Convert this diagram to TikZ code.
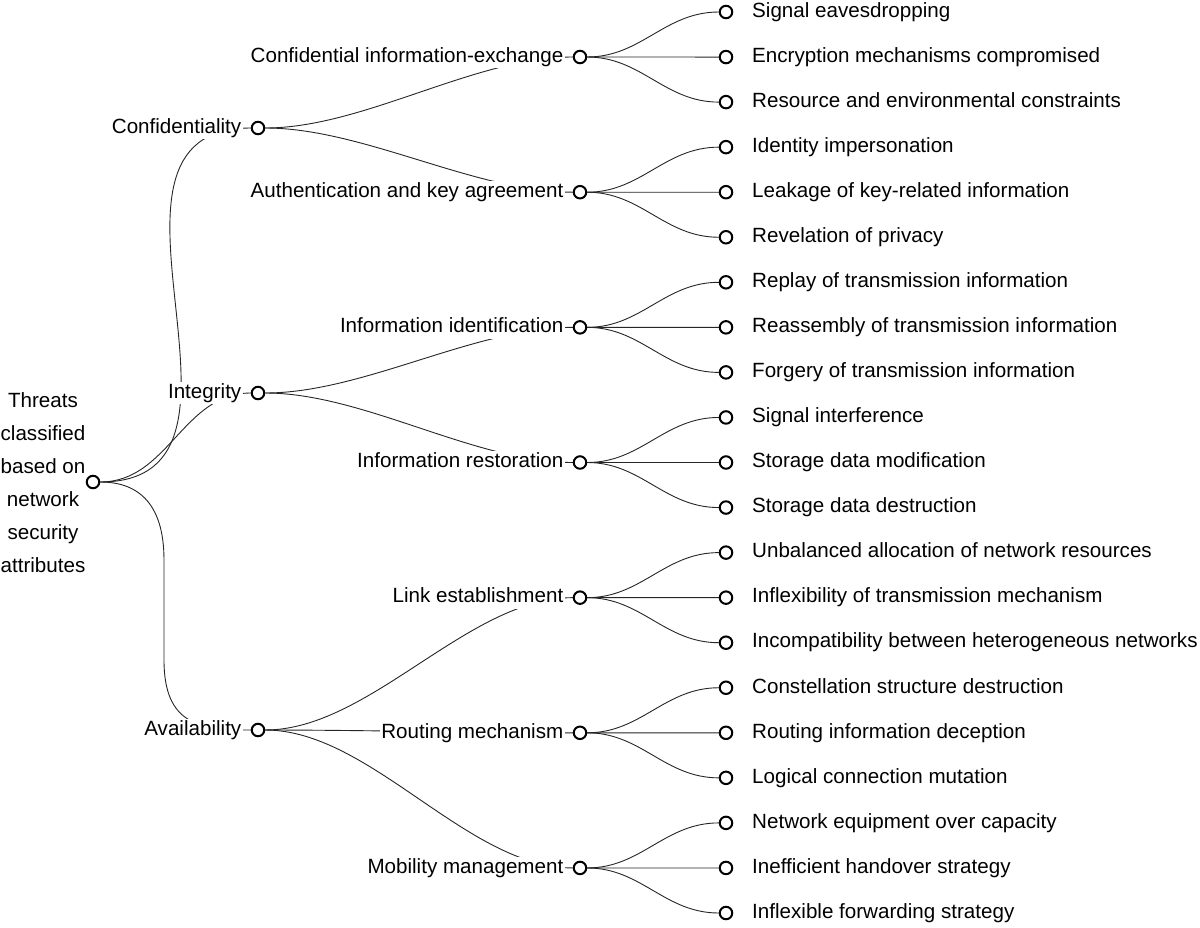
\documentclass[tikz,border=0pt]{standalone}
\usepackage{fontspec}
\setmainfont{Liberation Sans}
\usetikzlibrary{backgrounds}
\begin{document}
\begin{tikzpicture}[x=1pt,y=-1pt,
  dot/.style={circle,draw=black,line width=2pt,fill=white,minimum size=12.5pt,inner sep=0pt},
  lbl/.style={fill=white,inner sep=1.5pt,text height=15pt,text depth=4.5pt,font=\fontsize{20.6}{24}\selectfont},
  link/.style={draw=black!85,line width=0.9pt},
  midlink/.style={link,out=0,in=180,looseness=0.8},
  leaflink/.style={link,out=0,in=180,looseness=1}
]
\useasboundingbox (0,0) rectangle (1200,927);

% root
\node[dot] (root) at (93,482) {};
\node[align=center,inner sep=0pt,font=\fontsize{20.6}{33}\selectfont] (rootlbl) at (43,483)
  {Threats\\classified\\based on\\network\\security\\attributes};

% level 1
\node[dot] (conf) at (258,128) {};
\node[lbl,anchor=east] (confl) at (243,128) {Confidentiality};
\node[dot] (integ) at (258,393) {};
\node[lbl,anchor=east] (integl) at (243,393) {Integrity};
\node[dot] (avail) at (258,730) {};
\node[lbl,anchor=east] (availl) at (243,730) {Availability};

% level 2
\node[dot] (cie) at (580,57) {};
\node[lbl,anchor=east] (ciel) at (565,57) {Confidential information-exchange};
\node[dot] (auth) at (580,192.2) {};
\node[lbl,anchor=east] (authl) at (565,192.2) {Authentication and key agreement};
\node[dot] (iid) at (580,327.35) {};
\node[lbl,anchor=east] (iidl) at (565,327.35) {Information identification};
\node[dot] (ires) at (580,462.5) {};
\node[lbl,anchor=east] (iresl) at (565,462.5) {Information restoration};
\node[dot] (lnk) at (580,597.65) {};
\node[lbl,anchor=east] (lnkl) at (565,597.65) {Link establishment};
\node[dot] (rout) at (580,732.8) {};
\node[lbl,anchor=east] (routl) at (565,732.8) {Routing mechanism};
\node[dot] (mob) at (580,867.95) {};
\node[lbl,anchor=east] (mobl) at (565,867.95) {Mobility management};

% leaves
\foreach \t [count=\i from 0] in {Signal eavesdropping,Encryption mechanisms compromised,Resource and environmental constraints,Identity impersonation,Leakage of key-related information,Revelation of privacy,Replay of transmission information,Reassembly of transmission information,Forgery of transmission information,Signal interference,Storage data modification,Storage data destruction,Unbalanced allocation of network resources,Inflexibility of transmission mechanism,Incompatibility between heterogeneous networks,Constellation structure destruction,Routing information deception,Logical connection mutation,Network equipment over capacity,Inefficient handover strategy,Inflexible forwarding strategy}{
  \node[dot] (leaf\i) at (726,{12+45.05*\i}) {};
  \node[lbl,anchor=west] (leafl\i) at (750.5,{12+45.05*\i}) {\t};
}

\begin{scope}[on background layer]
  \draw[link] (root) to[out=0,in=180,looseness=1.25] (conf);
  \draw[link] (root) to[out=0,in=180,looseness=1] (integ);
  \draw[link] (root.east) .. controls (135,482) and (164,500) .. (164,560)
     -- (164,660) .. controls (164,725) and (200,730) .. (avail.west);
  \draw[midlink] (conf) to (cie);
  \draw[midlink] (conf) to (auth);
  \draw[midlink] (integ) to (iid);
  \draw[midlink] (integ) to (ires);
  \draw[midlink] (avail) to (lnk);
  \draw[midlink] (avail) to (rout);
  \draw[midlink] (avail) to (mob);
  \foreach \p/\i in {cie/0,cie/1,cie/2,auth/3,auth/4,auth/5,iid/6,iid/7,iid/8,ires/9,ires/10,ires/11,lnk/12,lnk/13,lnk/14,rout/15,rout/16,rout/17,mob/18,mob/19,mob/20}{
    \draw[leaflink] (\p) to (leaf\i);
  }
\end{scope}
\end{tikzpicture}
\end{document}
